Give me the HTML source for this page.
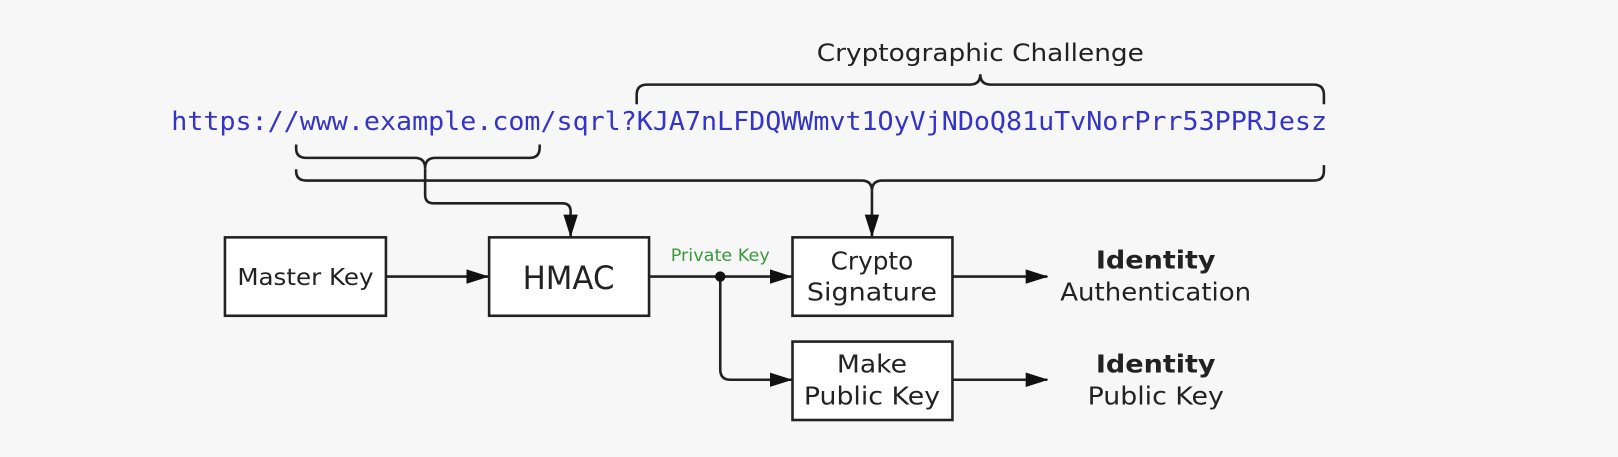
<!DOCTYPE html>
<html><head><style>html,body{margin:0;padding:0;background:#f7f7f7}</style></head><body>
<svg width="1618" height="452" viewBox="0 0 1568 438" preserveAspectRatio="none" xmlns="http://www.w3.org/2000/svg" font-family="'DejaVu Sans','Liberation Sans',sans-serif">
<rect width="1568" height="438" fill="#f7f7f7"/>
<defs><marker id="a" markerWidth="22" markerHeight="16" refX="21" refY="8" orient="auto" markerUnits="userSpaceOnUse"><path d="M0,1 L22,8 L0,15 z" fill="#111"/></marker></defs>
<text x="950" y="59" font-size="23" text-anchor="middle" fill="#222" textLength="317" lengthAdjust="spacingAndGlyphs">Cryptographic Challenge</text>
<text x="166" y="126" font-family="'DejaVu Sans Mono','Liberation Mono',monospace" font-size="25" fill="#3434c8" textLength="1120" lengthAdjust="spacingAndGlyphs">https://www.example.com/sqrl?KJA7nLFDQWWmvt1OyVjNDoQ81uTvNorPrr53PPRJesz</text>
<g fill="none" stroke="#222" stroke-width="2.5">
<path d="M617,101 V92 Q617,82 627,82 H940 Q950,82 950,72 Q950,82 960,82 H1273 Q1283,82 1283,92 V101"/>
<path d="M287,140 V144 Q287,153 297,153 H402 Q412,153 412,163 Q412,153 422,153 H513 Q523,153 523,143 V140"/>
<path d="M287,164 V166 Q287,175 297,175 H835 Q845,175 845,185 Q845,175 855,175 H1273 Q1283,175 1283,166 V160"/>
<path d="M412,163 V189 Q412,197 420,197 H545 Q553,197 553,205 V229" marker-end="url(#a)"/>
<path d="M845,185 V229" marker-end="url(#a)"/>
<rect x="218" y="230" width="156" height="76" fill="#fff"/>
<rect x="474" y="230" width="155" height="76" fill="#fff"/>
<rect x="768" y="230" width="155" height="76" fill="#fff"/>
<rect x="768" y="331" width="155" height="76" fill="#fff"/>
<path d="M374,268 H473" marker-end="url(#a)"/>
<path d="M629,268 H767" marker-end="url(#a)"/>
<path d="M698,268 V358 Q698,368 708,368 H767" marker-end="url(#a)"/>
<path d="M923,268 H1015" marker-end="url(#a)"/>
<path d="M923,368 H1015" marker-end="url(#a)"/>
</g>
<circle cx="698" cy="268" r="5" fill="#111"/>
<text x="698" y="253" font-size="16" fill="#3a9a3a" text-anchor="middle" textLength="96" lengthAdjust="spacingAndGlyphs">Private Key</text>
<g fill="#222" text-anchor="middle">
<text x="296" y="276" font-size="22" textLength="132" lengthAdjust="spacingAndGlyphs">Master Key</text>
<text x="551" y="280" font-size="31" textLength="89" lengthAdjust="spacingAndGlyphs">HMAC</text>
<text x="845" y="261" font-size="24" textLength="80" lengthAdjust="spacingAndGlyphs">Crypto</text>
<text x="845" y="291" font-size="24" textLength="126" lengthAdjust="spacingAndGlyphs">Signature</text>
<text x="845" y="361" font-size="24" textLength="68" lengthAdjust="spacingAndGlyphs">Make</text>
<text x="845" y="392" font-size="24" textLength="132" lengthAdjust="spacingAndGlyphs">Public Key</text>
<text x="1120" y="260" font-size="24" font-weight="bold" textLength="116" lengthAdjust="spacingAndGlyphs">Identity</text>
<text x="1120" y="291" font-size="24" textLength="185" lengthAdjust="spacingAndGlyphs">Authentication</text>
<text x="1120" y="361" font-size="24" font-weight="bold" textLength="116" lengthAdjust="spacingAndGlyphs">Identity</text>
<text x="1120" y="392" font-size="24" textLength="132" lengthAdjust="spacingAndGlyphs">Public Key</text>
</g>
</svg>
</body></html>
